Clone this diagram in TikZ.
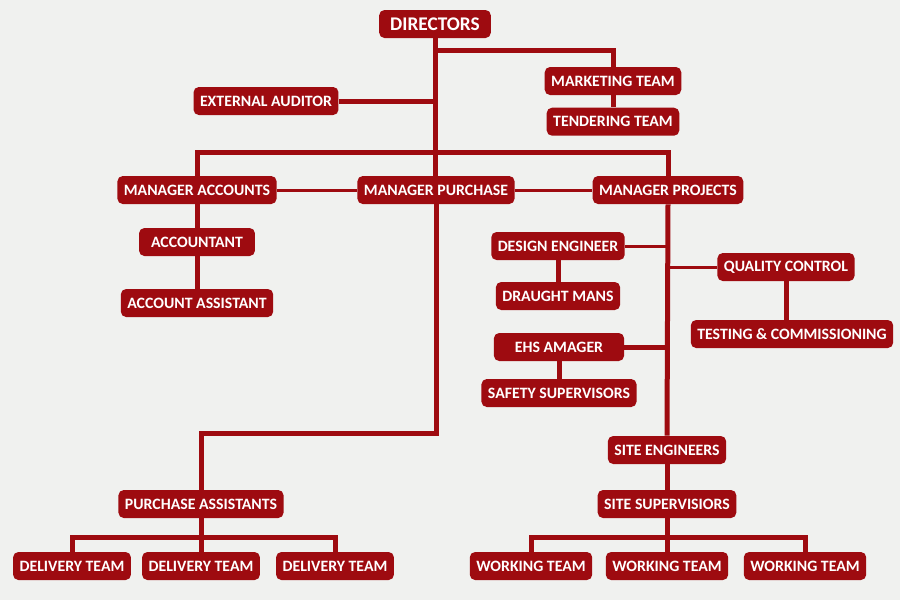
\documentclass[tikz,border=0pt]{standalone}
\usepackage{fontspec}
\setmainfont{Carlito}
\usepackage{tikz}
\usetikzlibrary{positioning}
\definecolor{orgred}{HTML}{9E0B10}
\definecolor{orgbg}{HTML}{F0F1EF}

\begin{document}
\begin{tikzpicture}[x=0.02cm, y=-0.02cm,
  every node/.style = {shape=rectangle, rounded corners=3pt,
    fill=orgred, text=white, align=center,
    font=\bfseries\fontsize{9}{10}\selectfont,
    minimum height=0.56cm, inner xsep=0.13cm, inner ysep=0pt},
  link/.style={draw=orgred, line width=0.1cm},
  thin link/.style={draw=orgred, line width=0.06cm}
  ]
  \fill[orgbg] (0,0) rectangle (900,600);

  \node (dir) at (435,24) [font=\bfseries\fontsize{11}{12}\selectfont, inner xsep=0.22cm] {DIRECTORS};
  \node (mkt) at (613,81) {MARKETING TEAM};
  \node (tnd) [below=0.24cm of mkt] {TENDERING TEAM};
  \node (aud) at (266,101) {EXTERNAL AUDITOR};

  \node (ma) at (197,190) {MANAGER ACCOUNTS};
  \node (mp) at (436,190) {MANAGER PURCHASE};
  \node (mpj) at (668,190) {MANAGER PROJECTS};

  \node (acc) at (197,242) [inner xsep=0.24cm] {ACCOUNTANT};
  \node (aas) at (197,303) {ACCOUNT ASSISTANT};

  \node (de) at (558,246) {DESIGN ENGINEER};
  \node (dm) at (558,296) {DRAUGHT MANS};
  \node (ehs) at (559,347) [inner xsep=0.42cm] {EHS AMAGER};
  \node (sfs) at (559,393) {SAFETY SUPERVISORS};
  \node (qc) at (786,267) {QUALITY CONTROL};
  \node (tc) at (792,334) {TESTING \& COMMISSIONING};

  \node (se) at (667,450) {SITE ENGINEERS};
  \node (ss) at (667,504) {SITE SUPERVISIORS};
  \node (pa) at (201,504) {PURCHASE ASSISTANTS};

  \node (dt1) at (72,566) {DELIVERY TEAM};
  \node (dt2) at (201,566) {DELIVERY TEAM};
  \node (dt3) at (335,566) {DELIVERY TEAM};
  \node (wt1) at (531,566) {WORKING TEAM};
  \node (wt2) at (667,566) {WORKING TEAM};
  \node (wt3) at (805,566) {WORKING TEAM};

  \draw[link] (dir.south) -- (dir.south |- mp.north);
  \draw[link] (dir.south |- 0,50) -| (mkt.north);
  \draw[link] (mkt.south) -- (tnd.north);
  \draw[link] (aud.east) -- (aud.east -| dir.south);
  \draw[link] (ma.north) |- (mpj.north |- 0,152) -- (mpj.north);
  \draw[thin link] (ma.east) -- (mp.west);
  \draw[thin link] (mp.east) -- (mpj.west);

  \draw[link] (ma.south) -- (acc.north);
  \draw[link] (acc.south) -- (aas.north);

  \draw[link] (mp.south) -- (mp.south |- 0,433) -| (pa.north);
  \draw[link] (pa.south) -- (dt2.north);
  \draw[link] (dt1.north) |- (pa.south |- 0,537) -| (dt3.north);

  \draw[link] (mpj.south) -- (se.north);
  \draw[link] (se.south) -- (ss.north);
  \draw[link] (ss.south) -- (wt2.north);
  \draw[link] (wt1.north) |- (ss.south |- 0,537) -| (wt3.north);

  \draw[thin link] (de.east) -- (de.east -| mpj.south);
  \draw[link] (de.south) -- (dm.north);
  \draw[link] (ehs.east) -- (ehs.east -| mpj.south);
  \draw[link] (ehs.south) -- (sfs.north);
  \draw[thin link] (qc.west) -- (qc.west -| mpj.south);
  \draw[link] (qc.south) -- (qc.south |- tc.north);
\end{tikzpicture}
\end{document}
